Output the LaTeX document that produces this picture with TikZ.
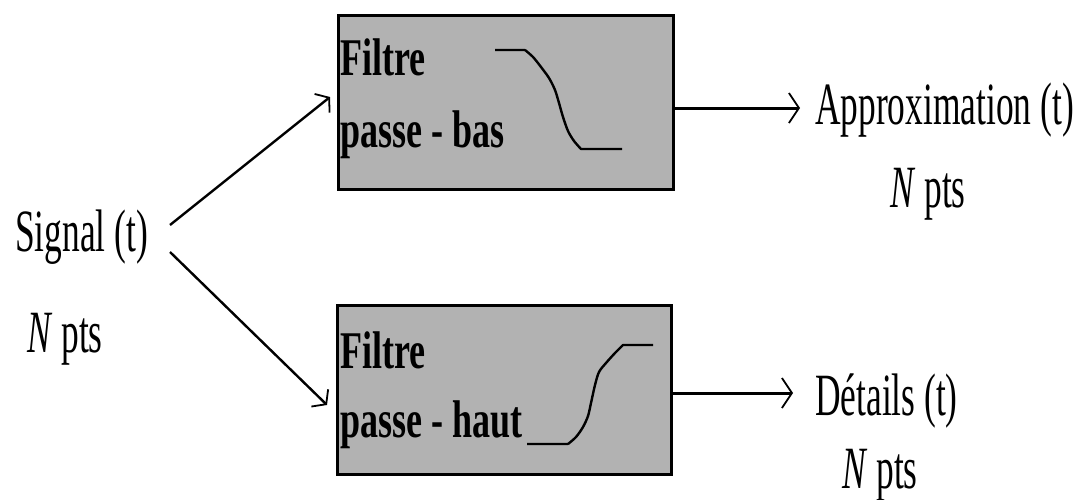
\documentclass[tikz,border=0pt]{standalone}
\usepackage{fontspec}
\setmainfont{Liberation Serif}
\usetikzlibrary{arrows.meta}
\definecolor{boxgray}{RGB}{178,178,178}
% horizontally condensed text
\newcommand{\cond}[2]{\scalebox{#1}[1]{#2}}
\begin{document}
\begin{tikzpicture}[x=1pt,y=-1pt,
  filterbox/.style={draw, line width=3pt, fill=boxgray, inner sep=0pt, outer sep=0pt},
  txt/.style={anchor=base west, inner sep=0pt, font=\fontsize{60}{60}\selectfont},
  btxt/.style={anchor=base west, inner sep=0pt, font=\fontsize{53}{53}\selectfont\bfseries},
  feed/.style={line width=2.4pt, -{Straight Barb[length=9pt,width=24pt,line width=1.8pt]}},
  outp/.style={line width=3pt, -{Straight Barb[length=10pt,width=30pt,line width=1.8pt]}},
  resp/.style={line width=2.4pt, line join=round}]
\useasboundingbox (0,0) rectangle (1084,499);

% filter boxes
\node[filterbox, minimum width=334.5pt, minimum height=173.5pt] (lp) at (505.75,102.25) {};
\node[filterbox, minimum width=333.3pt, minimum height=168.8pt] (hp) at (504.6,389.9) {};

% box captions
\node[btxt] (lpA) at (340,75)  {\cond{0.68}{Filtre}};
\node[btxt] (lpB) at (340,147) {\cond{0.68}{passe - bas}};
\node[btxt] (hpA) at (340,368) {\cond{0.68}{Filtre}};
\node[btxt] (hpB) at (340,437) {\cond{0.68}{passe - haut}};

% low-pass response
\draw[resp] (495,50) -- (525,50)
  plot[smooth] coordinates {(525,50) (533,57) (541,67) (549,78) (555,90) (559,103) (563,117) (568,131) (574,141) (581,149)}
  -- (622,149);
% high-pass response
\draw[resp] (527,444) -- (568,444)
  plot[smooth] coordinates {(568,444) (576,437) (583,427) (588,416) (591,403) (595,385) (599,372) (606,363) (615,353) (623,345)}
  -- (653,345);

% input signal
\node[txt] (sig) at (15,251) {\cond{0.59}{Signal (t)}};
\node[txt] (sigN) at (27,352) {\cond{0.59}{\textit{N} pts}};

% outputs
\node[txt] (app) at (815,124) {\cond{0.59}{Approximation (t)}};
\node[txt] (appN) at (890,207) {\cond{0.59}{\textit{N} pts}};
\node[txt] (det) at (815,415) {\cond{0.59}{D\'etails (t)}};
\node[txt] (detN) at (842,488) {\cond{0.59}{\textit{N} pts}};

% connectors
\coordinate (s1) at (170,225);
\coordinate (s2) at (170,252);
\coordinate (e1) at (330,97);
\coordinate (e2) at (327,405);
\coordinate (o1) at (800,108);
\coordinate (o2) at (793,393);
\draw[feed] (s1) -- (e1);
\draw[feed] (s2) -- (e2);
\draw[outp] (lp.east |- o1) -- (o1);
\draw[outp] (hp.east |- o2) -- (o2);
\end{tikzpicture}
\end{document}
